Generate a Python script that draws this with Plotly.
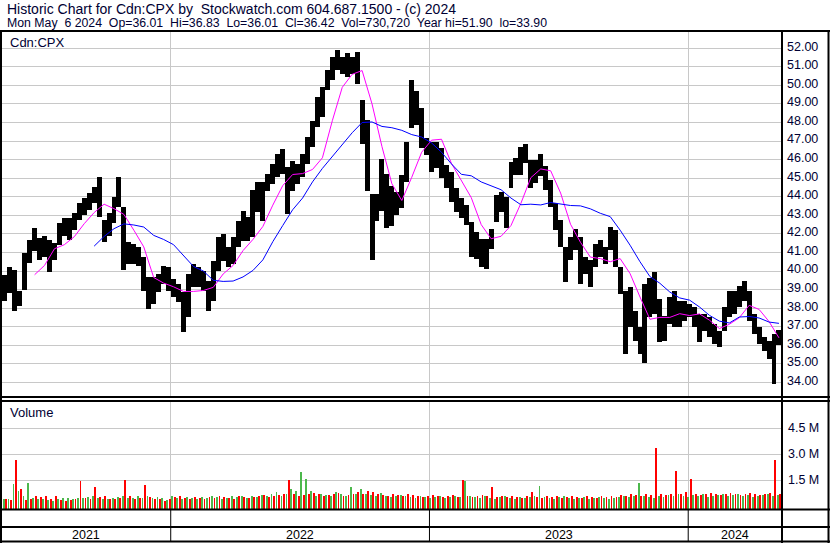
import pandas as pd
import plotly.graph_objects as go

# ---------------- data ----------------
# weekly buckets, Monday of each trading week
week_start = pd.date_range("2021-05-10", "2024-05-06", freq="7D")

week_high = [39.8, 40.24, 40.06, 38.9, 40.96, 41.68, 42.31, 41.77, 41.86, 41.68,
             41.5, 42.58, 42.85, 42.85, 43.1, 43.65, 43.92, 44.19, 44.55, 45.09,
             42.76, 43.1, 44.0, 45.09, 43.47, 41.55, 41.46, 41.28, 40.74, 39.66,
             39.66, 39.84, 40.29, 40.2, 39.57, 39.3, 38.85, 39.84, 40.38, 40.2,
             40.02, 39.48, 40.56, 41.82, 42.0, 41.28, 41.82, 42.72, 43.26, 42.9,
             44.34, 44.8, 44.77, 45.22, 45.76, 46.3, 46.57, 45.58, 45.94, 45.76,
             46.3, 47.2, 48.1, 49.38, 49.92, 50.82, 51.55, 51.91, 51.55, 51.73,
             51.55, 51.82, 49.2, 48.11, 44.13, 44.13, 46.03, 45.22, 44.6, 44.27,
             45.17, 46.97, 50.3, 49.68, 48.77, 47.15, 46.97, 46.97, 46.61, 45.71,
             45.35, 44.45, 43.91, 43.55, 42.65, 42.11, 41.75, 41.75, 42.29, 44.09,
             44.27, 44.0, 45.89, 46.07, 46.7, 46.82, 46.0, 46.0, 46.28, 45.64,
             44.92, 43.65, 42.75, 41.3, 41.85, 42.24, 41.85, 40.76, 40.58, 41.48,
             41.67, 41.3, 42.39, 42.21, 40.22, 38.95, 39.13, 37.87, 36.96, 39.31,
             39.6, 39.93, 38.5, 37.6, 38.59, 38.95, 38.41, 38.41, 38.23, 38.05,
             37.69, 37.69, 37.51, 37.15, 36.79, 38.05, 38.95, 38.95, 39.2, 39.48,
             38.95, 37.69, 36.97, 36.43, 36.25, 36.61, 36.83]

week_low = [38.36, 38.8, 37.87, 38.1, 38.99, 40.42, 41.06, 40.6, 40.78, 39.94,
            40.6, 41.4, 41.86, 41.68, 42.2, 42.75, 43.02, 43.3, 43.65, 42.93,
            41.59, 41.86, 42.58, 43.47, 40.06, 40.38, 40.38, 40.29, 38.94, 37.95,
            38.22, 38.85, 39.3, 38.94, 38.58, 38.31, 36.7, 37.5, 39.12, 39.12,
            38.94, 37.86, 38.4, 40.0, 40.56, 40.2, 40.38, 41.28, 41.64, 41.64,
            41.82, 43.2, 42.69, 44.31, 44.68, 45.04, 45.22, 43.05, 44.31, 44.68,
            45.04, 45.76, 46.67, 47.75, 48.29, 49.74, 50.28, 50.82, 50.64, 50.46,
            50.64, 50.1, 46.85, 44.31, 40.6, 42.69, 43.23, 42.33, 42.4, 43.0,
            43.37, 44.81, 47.7, 47.87, 46.61, 46.25, 45.35, 45.53, 44.99, 44.45,
            43.73, 43.19, 42.83, 42.47, 40.76, 40.67, 40.22, 40.13, 41.21, 42.65,
            43.19, 42.3, 44.45, 45.17, 45.2, 45.82, 44.47, 44.74, 45.1, 44.38,
            43.47, 42.21, 41.3, 39.4, 40.58, 41.12, 39.28, 39.86, 39.13, 40.22,
            40.76, 40.4, 41.12, 40.22, 38.77, 35.52, 36.96, 36.24, 35.52, 35.07,
            37.5, 37.69, 36.2, 36.25, 37.15, 36.97, 36.97, 37.33, 37.51, 36.97,
            36.16, 36.79, 36.43, 36.07, 35.89, 36.79, 37.51, 37.69, 38.05, 38.41,
            37.33, 36.61, 36.07, 35.71, 35.27, 33.92, 36.01]

# moving averages, read every second week (None = not drawn yet)
ma_short = [None, None, None, 39.8, 40.3, 41.2, 41.42, 41.85, 42.55, 43.15,
            43.6, 43.36, 43.05, 42.2, 41.3, 39.65, 39.35, 39.15, 38.9, 38.9,
            38.95, 39.12, 39.84, 40.3, 41.1, 41.7, 42.4, 43.55, 44.6, 45.2,
            45.25, 45.47, 46.1, 48.1, 49.9, 50.6, 50.8, 49.0, 46.7, 44.7,
            43.8, 45.05, 46.4, 47.05, 47.1, 45.8, 44.85, 43.95, 42.5, 41.74,
            41.87, 42.45, 43.65, 45.03, 45.5, 45.4, 44.2, 42.52, 41.55, 40.75,
            40.67, 40.5, 40.67, 39.86, 38.6, 37.4, 37.5, 37.5, 37.7, 37.6,
            37.69, 37.35, 36.9, 37.13, 37.48, 38.15, 37.93, 37.28, 36.4]

ma_long = [None, None, None, None, None, None, None, None, None, 41.34,
           41.86, 42.28, 42.54, 42.48, 42.37, 41.92, 41.7, 41.42, 40.85, 40.25,
           40.0, 39.5, 39.44, 39.46, 39.68, 40.03, 40.6, 41.58, 42.45, 43.3,
           43.93, 44.8, 45.53, 46.17, 46.8, 47.45, 48.0, 48.03, 47.79, 47.72,
           47.58, 47.35, 47.22, 46.9, 46.4, 45.77, 45.21, 45.13, 44.8, 44.61,
           44.38, 43.93, 43.57, 43.6, 43.56, 43.69, 43.62, 43.53, 43.51, 43.35,
           43.11, 42.93, 42.2, 41.39, 40.5, 39.7, 39.34, 38.87, 38.55, 38.43,
           38.06, 37.61, 37.3, 37.2, 37.52, 37.55, 37.47, 37.25, 37.18]

# weekly volume (millions) split into up-day (green) and down-day (red) bars
vol_up = [0.40, 0.45, 1.30, 0.90, 0.60, 1.33, 0.50, 0.45, 0.40, 0.35,
          0.30, 0.45, 0.50, 0.50, 0.45, 0.50, 0.50, 0.55, 0.60, 0.50,
          0.40, 0.45, 0.50, 0.55, 0.60, 0.50, 0.50, 0.60, 0.50, 0.60,
          0.50, 0.55, 0.50, 0.35, 0.60, 0.50, 0.45, 0.55, 0.50, 0.45,
          0.55, 0.50, 0.60, 0.55, 0.45, 0.50, 0.60, 0.55, 0.60, 0.50,
          0.60, 0.55, 0.65, 0.60, 0.70, 0.80, 0.60, 0.70, 1.00, 0.90,
          2.00, 1.60, 0.90, 0.60, 0.70, 0.65, 0.60, 0.80, 0.70, 0.60,
          1.10, 0.70, 1.00, 0.70, 0.65, 0.60, 0.75, 0.60, 0.55, 0.60,
          0.65, 0.60, 0.55, 0.50, 0.60, 0.55, 0.50, 0.55, 0.60, 0.50,
          0.55, 0.60, 0.55, 1.46, 0.60, 0.55, 0.50, 0.60, 0.50, 0.45,
          0.55, 0.60, 0.50, 0.45, 0.55, 0.50, 0.55, 0.60, 1.20, 0.55,
          0.50, 0.45, 0.55, 0.60, 0.50, 0.45, 0.50, 0.55, 0.45, 0.50,
          0.55, 0.50, 0.45, 0.50, 0.55, 0.60, 0.55, 0.60, 1.35, 0.60,
          0.55, 0.50, 0.60, 0.55, 0.65, 0.60, 0.70, 0.60, 0.55, 0.65,
          0.60, 0.70, 0.55, 0.60, 0.65, 0.70, 0.60, 0.65, 0.70, 0.60,
          0.65, 0.55, 0.60, 0.65, 0.70, 0.60, 0.65]

vol_down = [0.45, 0.35, 2.70, 1.00, 0.35, 0.40, 0.60, 0.55, 0.60, 0.45,
            0.60, 0.35, 0.30, 0.35, 0.40, 1.45, 0.50, 0.40, 1.10, 0.55,
            0.60, 0.45, 0.40, 0.50, 1.50, 0.60, 0.45, 0.50, 1.25, 0.55,
            0.40, 0.40, 0.30, 0.45, 0.55, 0.60, 0.50, 0.45, 0.55, 0.50,
            0.45, 0.55, 0.50, 0.60, 0.55, 0.50, 0.45, 0.60, 0.55, 0.50,
            0.55, 0.60, 0.65, 0.55, 0.60, 0.65, 0.70, 1.50, 0.70, 0.60,
            0.65, 0.70, 0.75, 0.70, 0.60, 0.65, 0.70, 0.75, 0.60, 0.65,
            0.70, 0.80, 0.70, 0.90, 0.80, 0.70, 0.65, 0.60, 0.70, 0.65,
            0.60, 0.70, 0.65, 0.60, 0.55, 0.60, 0.65, 0.60, 0.55, 0.60,
            0.65, 0.55, 1.50, 0.60, 0.55, 0.60, 0.65, 0.60, 1.10, 0.55,
            0.60, 0.55, 0.60, 0.55, 0.50, 0.60, 0.80, 0.55, 0.50, 0.60,
            0.55, 0.60, 0.50, 0.55, 0.60, 0.55, 0.50, 0.60, 0.55, 0.50,
            0.60, 0.55, 0.60, 0.55, 0.65, 0.60, 0.70, 0.65, 0.60, 0.70,
            0.65, 3.38, 0.70, 0.65, 0.70, 2.04, 0.70, 0.80, 1.56, 0.70,
            0.65, 0.70, 0.75, 0.70, 0.65, 0.70, 0.75, 0.70, 0.65, 0.70,
            0.75, 0.70, 0.65, 0.70, 0.75, 2.67, 0.73]

price_ticks = [34, 35, 36, 37, 38, 39, 40, 41, 42, 43, 44, 45, 46, 47, 48, 49, 50, 51, 52]
vol_ticks = [1.5, 3.0, 4.5]
year_starts = ["2022-01-01", "2023-01-01", "2024-01-01"]
years = ["2021", "2022", "2023", "2024"]

header_1 = "Historic Chart for Cdn:CPX by  Stockwatch.com 604.687.1500 - (c) 2024"
header_2 = ("Mon May  6 2024  Op=36.01  Hi=36.83  Lo=36.01  Cl=36.42  "
            "Vol=730,720  Year hi=51.90  lo=33.90")

# ---------------- layout constants ----------------
W, H = 830, 543
X_RANGE = [pd.Timestamp("2021-05-08"), pd.Timestamp("2024-05-10 21:36")]
FONT = "Arial, Liberation Sans, sans-serif"
TXT = "#000033"
GRID = "#c8c8c8"
DAY_MS = 86400000
V_FLOOR = -0.156


def px(x):
    return x / W


def py(y):
    return 1 - y / H


week_mid = week_start + pd.Timedelta(days=2)
ma_x = week_mid[::2]

fig = go.Figure()

# price bars (weekly high-low range)
fig.add_trace(go.Bar(
    x=week_mid, y=[h - l for h, l in zip(week_high, week_low)], base=week_low,
    width=7 * DAY_MS, marker=dict(color="black", line=dict(width=0)),
    xaxis="x", yaxis="y", hoverinfo="skip"))

fig.add_trace(go.Scatter(x=ma_x, y=ma_short, mode="lines",
                         line=dict(color="#ff00ff", width=1),
                         connectgaps=False, xaxis="x", yaxis="y"))
fig.add_trace(go.Scatter(x=ma_x, y=ma_long, mode="lines",
                         line=dict(color="#0000ff", width=1),
                         connectgaps=False, xaxis="x", yaxis="y"))

# volume bars
fig.add_trace(go.Bar(
    x=week_mid - pd.Timedelta(hours=42), y=[(v - V_FLOOR) * 1e6 for v in vol_up],
    base=V_FLOOR * 1e6, width=2.6 * DAY_MS,
    marker=dict(color="#4cb84c", line=dict(width=0)), xaxis="x2", yaxis="y2"))
fig.add_trace(go.Bar(
    x=week_mid + pd.Timedelta(hours=42), y=[(v - V_FLOOR) * 1e6 for v in vol_down],
    base=V_FLOOR * 1e6, width=2.6 * DAY_MS,
    marker=dict(color="#ff0000", line=dict(width=0)), xaxis="x2", yaxis="y2"))

xcommon = dict(type="date", range=X_RANGE, domain=[px(2), px(781)],
               showticklabels=False, tickvals=year_starts, showgrid=True,
               gridcolor=GRID, gridwidth=1, zeroline=False, showline=False,
               ticks="", fixedrange=True)

fig.update_layout(
    width=W, height=H, margin=dict(l=0, r=0, t=0, b=0),
    paper_bgcolor="white", plot_bgcolor="white", showlegend=False,
    barmode="overlay", bargap=0,
    xaxis=dict(anchor="y", **xcommon),
    xaxis2=dict(anchor="y2", matches="x", **xcommon),
    yaxis=dict(domain=[py(397), py(32)], range=[33.212, 52.878], side="right",
               anchor="x", tickvals=price_ticks,
               ticktext=[f"{v:.2f}" for v in price_ticks],
               tickfont=dict(family=FONT, size=12.5, color=TXT),
               showgrid=True, gridcolor=GRID, gridwidth=1, zeroline=False,
               ticks="", ticklabelstandoff=5, ticklabelshift=-2, fixedrange=True),
    yaxis2=dict(domain=[py(509), py(401)], range=[V_FLOOR * 1e6, 6.076e6],
                side="right", anchor="x2", tickvals=[v * 1e6 for v in vol_ticks],
                ticktext=[f"{v:.1f} M" for v in vol_ticks],
                tickfont=dict(family=FONT, size=12.5, color=TXT),
                showgrid=True, gridcolor=GRID, gridwidth=1, zeroline=False,
                ticks="", ticklabelstandoff=6, ticklabelshift=-1, fixedrange=True),
)

nb = lambda s: s.replace(" ", "\u00a0")
ann = [
    dict(x=px(5), y=py(9), text=nb(header_1), size=14),
    dict(x=px(5), y=py(23), text=nb(header_2), size=12.3),
    dict(x=px(8), y=py(42), text="Cdn:CPX", size=13),
    dict(x=px(8), y=py(413), text="Volume", size=13),
]
for a in ann:
    size = a.pop("size")
    a.update(xref="paper", yref="paper", xanchor="left", yanchor="middle",
             showarrow=False, font=dict(family=FONT, size=size, color=TXT))
    fig.add_annotation(**a)

# year labels centred in each year segment of the visible range
bounds = [X_RANGE[0]] + [pd.Timestamp(d) for d in year_starts] + [X_RANGE[1]]
for i, yr in enumerate(years):
    mid = bounds[i] + (bounds[i + 1] - bounds[i]) / 2
    fig.add_annotation(x=mid, y=py(534.5), xref="x", yref="paper", text=yr,
                       showarrow=False, xanchor="center", yanchor="middle",
                       font=dict(family=FONT, size=12.5, color="#000000"))


# frame lines
def hline(y, x0=0, x1=W, w=2):
    fig.add_shape(type="line", xref="paper", yref="paper", x0=px(x0), x1=px(x1),
                  y0=py(y), y1=py(y), line=dict(color="black", width=w))


def vline(x, y0, y1, w=2):
    fig.add_shape(type="line", xref="paper", yref="paper", x0=px(x), x1=px(x),
                  y0=py(y0), y1=py(y1), line=dict(color="black", width=w))


hline(31)
hline(397)
hline(401)
hline(509.5)
hline(527)
hline(541.5)
vline(1, 31, 543)
vline(782, 31, 543)
vline(828.5, 31, 543)
for d in year_starts:
    fig.add_shape(type="line", xref="x", yref="paper", x0=d, x1=d,
                  y0=py(541), y1=py(509.5), line=dict(color="black", width=1))

fig.write_html(
    "out.html",
    config={"displayModeBar": False, "staticPlot": True},
    post_script="document.body.style.margin='0';document.body.style.overflow='hidden';")
